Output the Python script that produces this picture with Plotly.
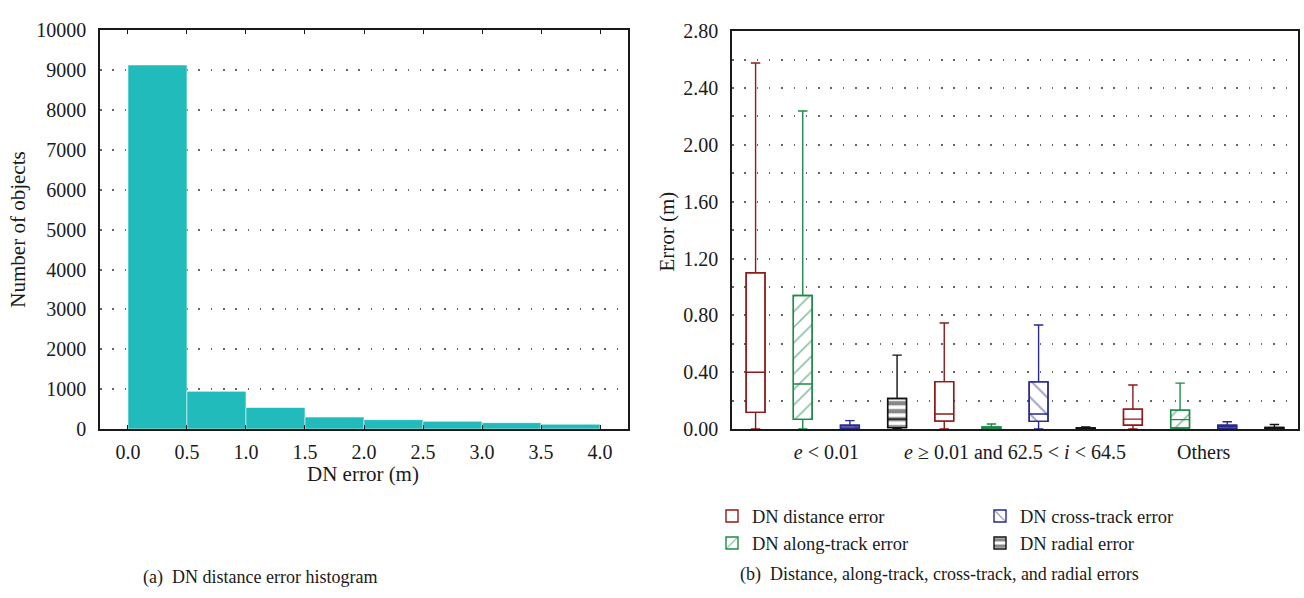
import plotly.graph_objects as go

# ---- (a) histogram of DN distance error ----
bin_edges = [0.0, 0.5, 1.0, 1.5, 2.0, 2.5, 3.0, 3.5, 4.0]
bin_counts = [9130, 945, 540, 300, 235, 195, 160, 120]

# ---- (b) box statistics per orbit class ----
group_labels = ["<i>e</i> &lt; 0.01",
                "<i>e</i> ≥ 0.01 and 62.5 &lt; <i>i</i> &lt; 64.5",
                "Others"]

series_names = ["DN distance error", "DN along-track error",
                "DN cross-track error", "DN radial error"]

# one list per statistic, one entry per group
dist_low = [0.0, 0.0, 0.0]
dist_q1 = [0.117, 0.056, 0.027]
dist_med = [0.40, 0.106, 0.07]
dist_q3 = [1.10, 0.334, 0.14]
dist_high = [2.576, 0.746, 0.31]

along_low = [0.0, 0.0, 0.0]
along_q1 = [0.068, 0.002, 0.007]
along_med = [0.317, 0.006, 0.066]
along_q3 = [0.94, 0.014, 0.133]
along_high = [2.239, 0.035, 0.323]

cross_low = [0.0, 0.0, 0.0]
cross_q1 = [0.004, 0.054, 0.005]
cross_med = [0.015, 0.106, 0.016]
cross_q3 = [0.027, 0.332, 0.027]
cross_high = [0.059, 0.732, 0.051]

radial_low = [0.0, 0.0, 0.0]
radial_q1 = [0.01, 0.001, 0.0]
radial_med = [0.07, 0.004, 0.005]
radial_q3 = [0.215, 0.008, 0.012]
radial_high = [0.52, 0.015, 0.032]

FONT = "Liberation Serif"
INK = "#1a1a1a"
TEAL = "#22BBBB"
GRID_DASH = "1.5px,10.8px"

fig = go.Figure()

# histogram bars
centers = [(a + b) / 2 for a, b in zip(bin_edges[:-1], bin_edges[1:])]
widths = [b - a for a, b in zip(bin_edges[:-1], bin_edges[1:])]
fig.add_trace(go.Bar(
    x=centers, y=bin_counts, width=widths,
    marker=dict(color=TEAL, line=dict(color="rgba(255,255,255,0.55)", width=1)),
    showlegend=False, xaxis="x", yaxis="y",
))

# box plots: hatched body drawn as a bar, outline/whiskers as a box trace
styles = [
    dict(color="#8E1B1B", shape="", size=10, solidity=0.1),
    dict(color="#1E8A4A", shape="/", size=11, solidity=0.16),
    dict(color="#2A2A8A", shape="\\", size=12, solidity=0.15),
    dict(color="#111111", shape="-", size=8, solidity=0.55),
]
stats = [
    (dist_low, dist_q1, dist_med, dist_q3, dist_high),
    (along_low, along_q1, along_med, along_q3, along_high),
    (cross_low, cross_q1, cross_med, cross_q3, cross_high),
    (radial_low, radial_q1, radial_med, radial_q3, radial_high),
]
legend_ids = ["legend", "legend", "legend2", "legend2"]
n_series = len(series_names)
box_w = 0.4

for k, (name, st, (lo, q1, med, q3, hi), lg) in enumerate(
        zip(series_names, styles, stats, legend_ids)):
    pos = [g * n_series + k for g in range(len(group_labels))]
    fig.add_trace(go.Bar(
        x=pos, base=q1, y=[b - a for a, b in zip(q1, q3)], width=box_w,
        name=name, legend=lg,
        marker=dict(
            color="white",
            line=dict(color=st["color"], width=1.4),
            pattern=dict(shape=st["shape"], fgcolor=st["color"], bgcolor="white",
                         size=st["size"], solidity=st["solidity"]),
        ),
        xaxis="x2", yaxis="y2",
    ))
    fig.add_trace(go.Box(
        x=pos, q1=q1, median=med, q3=q3, lowerfence=lo, upperfence=hi,
        width=box_w, whiskerwidth=0.5,
        line=dict(color=st["color"], width=1.4),
        fillcolor="rgba(0,0,0,0)", boxpoints=False,
        showlegend=False, xaxis="x2", yaxis="y2",
    ))

W, H = 1304, 598


def px_x(v):
    return v / W


def px_y(v):
    return (H - v) / H


axis_common = dict(
    showline=True, linecolor=INK, linewidth=1.5, mirror=True,
    zeroline=False, tickfont=dict(family=FONT, size=20, color=INK),
)

fig.update_layout(
    width=W, height=H,
    margin=dict(l=0, r=0, t=0, b=0),
    paper_bgcolor="white", plot_bgcolor="white",
    barmode="overlay", boxmode="overlay",
    font=dict(family=FONT, color=INK),
    xaxis=dict(
        axis_common, domain=[px_x(100), px_x(628)], range=[-0.237, 4.237],
        tickvals=bin_edges, tickformat=".1f", ticks="inside", ticklen=4,
        tickcolor=INK, mirror="ticks", showgrid=False, ticklabelstandoff=4,
        anchor="y",
    ),
    yaxis=dict(
        axis_common, domain=[px_y(434), px_y(20)], range=[0, 10000],
        dtick=1000, tickformat="d", ticks="", showgrid=True, gridcolor="#666666",
        griddash=GRID_DASH, gridwidth=1.5, ticklabelstandoff=8, anchor="x",
    ),
    xaxis2=dict(
        axis_common, domain=[px_x(732), px_x(1298)], range=[-0.5, 11.5],
        tickvals=[g * n_series + 1.5 for g in range(len(group_labels))],
        ticktext=group_labels, ticks="", showgrid=False,
        ticklabelstandoff=4, anchor="y2",
    ),
    yaxis2=dict(
        axis_common, domain=[px_y(434), px_y(21)], range=[0, 2.8],
        dtick=0.4, tickformat=".2f", ticks="", showgrid=True,
        gridcolor="#666666", griddash=GRID_DASH, gridwidth=1.5,
        minor=dict(dtick=0.2, showgrid=True, gridcolor="#666666",
                   griddash=GRID_DASH, gridwidth=1.5),
        ticklabelstandoff=8, anchor="x2",
    ),
    legend=dict(
        x=px_x(712), y=px_y(505), xanchor="left", yanchor="top",
        font=dict(family=FONT, size=18.5, color=INK), bgcolor="rgba(0,0,0,0)",
        itemwidth=30,
    ),
    legend2=dict(
        x=px_x(980), y=px_y(505), xanchor="left", yanchor="top",
        font=dict(family=FONT, size=18.5, color=INK), bgcolor="rgba(0,0,0,0)",
        itemwidth=30,
    ),
)

annots = [
    dict(text="Number of objects", x=px_x(18), y=px_y(227), textangle=-90, size=21),
    dict(text="DN error (m)", x=px_x(363), y=px_y(481), textangle=0, size=21),
    dict(text="Error (m)", x=px_x(667), y=px_y(229), textangle=-90, size=21),
    dict(text="(a)  DN distance error histogram", x=px_x(260), y=px_y(588),
         textangle=0, size=18),
    dict(text="(b)  Distance, along-track, cross-track, and radial errors",
         x=px_x(939), y=px_y(585), textangle=0, size=18),
]
for a in annots:
    fig.add_annotation(
        text=a["text"], x=a["x"], y=a["y"], xref="paper", yref="paper",
        xanchor="center", yanchor="middle", textangle=a["textangle"],
        showarrow=False, font=dict(family=FONT, size=a["size"], color=INK),
    )

fig.write_html("out.html")
